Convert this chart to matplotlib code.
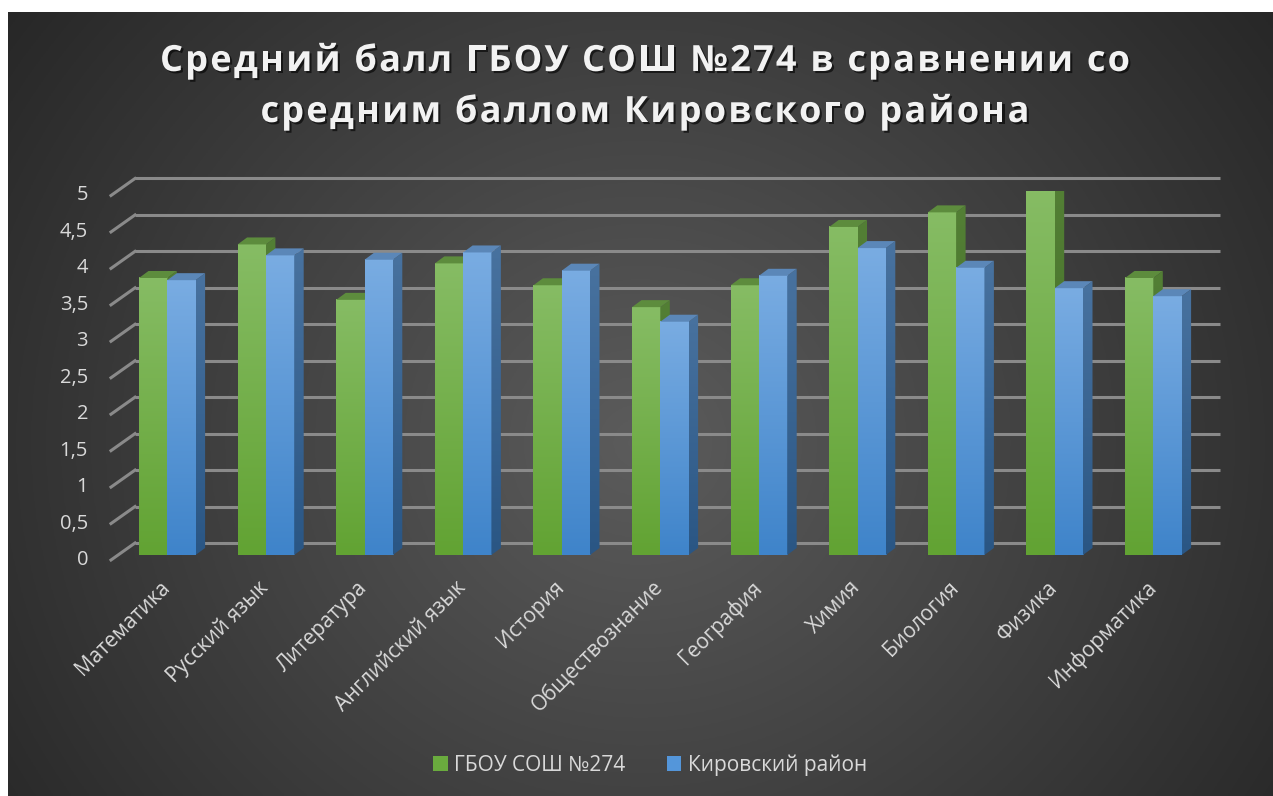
import numpy as np
import matplotlib
matplotlib.use("Agg")
import matplotlib.pyplot as plt
from matplotlib.patches import Polygon, Patch
from matplotlib import patheffects

plt.rcParams['font.family'] = ['Open Sans', 'DejaVu Sans']

# data
subjects = ["Математика", "Русский язык", "Литература", "Английский язык",
            "История", "Обществознание", "География", "Химия", "Биология",
            "Физика", "Информатика"]
school = [3.8, 4.26, 3.5, 4.0, 3.7, 3.4, 3.7, 4.5, 4.7, 5.0, 3.8]
district = [3.77, 4.11, 4.05, 4.15, 3.9, 3.2, 3.83, 4.21, 3.94, 3.66, 3.55]
y_ticks = [0, 0.5, 1, 1.5, 2, 2.5, 3, 3.5, 4, 4.5, 5]
y_tick_labels = ["0", "0,5", "1", "1,5", "2", "2,5", "3", "3,5", "4", "4,5", "5"]
series_names = ["ГБОУ СОШ №274", "Кировский район"]
title_lines = ["Средний балл ГБОУ СОШ №274 в сравнении со",
               "средним баллом Кировского района"]

W, H = 1273, 796
fig = plt.figure(figsize=(W / 100, H / 100), dpi=100)
fig.patch.set_facecolor("white")

# dark radial background
bg = fig.add_axes([8 / W, 0, 1 - 8 / W, 1 - 12 / H])
yy, xx = np.mgrid[0:1:300j, 0:1:500j]
r = np.sqrt(((xx - 0.5) * 1.5) ** 2 + (yy - 0.55) ** 2)
shade = 0.36 - 0.21 * np.clip(r / 0.95, 0, 1)
bg.imshow(np.dstack([shade] * 3), extent=[0, 1, 0, 1], aspect="auto")
bg.axis("off")

# plot area (bar plane)
ax_w, ax_h = 1084.6, 364.5
ax = fig.add_axes([118 / W, (H - 555) / H, ax_w / W, ax_h / H])
ax.set_xlim(-0.5, 10.5)
ax.set_ylim(0, 5)
ax.axis("off")
px_x = 11 / ax_w
px_y = 5 / ax_h

grid_col = "#8a8a8a"
for v in y_ticks:
    # back wall line + floor diagonal
    ax.plot([-0.5 + 17 * px_x, 10.5 + 17 * px_x], [v + 12 * px_y] * 2,
            color=grid_col, lw=2.2, clip_on=False, zorder=1, solid_capstyle="butt")
    ax.plot([-0.5 - 7 * px_x, -0.5 + 17 * px_x], [v - 5 * px_y, v + 12 * px_y],
            color=grid_col, lw=2.2, clip_on=False, zorder=1)

for v, lab in zip(y_ticks, y_tick_labels):
    ax.text(-0.5 - 30 * px_x, v - 5 * px_y, lab, ha="right", va="center",
            fontsize=14.5, color="#d9d9d9", clip_on=False)

bar_w = 28.3 * px_x
dx, dy = 9.5 * px_x, 7 * px_y

styles = [
    {"front": ("#62a333", "#86bc64"), "side": ("#416b25", "#537f35"), "top": "#5d8c3d"},
    {"front": ("#3f84ca", "#79ace2"), "side": ("#2a5684", "#48729f"), "top": "#5b87b8"},
]


def grad(c_bot, c_top):
    a = np.array(matplotlib.colors.to_rgb(c_bot))
    b = np.array(matplotlib.colors.to_rgb(c_top))
    t = np.linspace(0, 1, 64)[:, None]
    return (a + (b - a) * t)[:, None, :]


def draw_bar(x0, v, st, z):
    x1 = x0 + bar_w
    ax.imshow(grad(*st["front"]), extent=[x0, x1, 0, v], origin="lower",
              aspect="auto", zorder=z, interpolation="bilinear")
    side = Polygon([(x1, 0), (x1 + dx, dy), (x1 + dx, v + dy), (x1, v)],
                   closed=True, facecolor="none", edgecolor="none", zorder=z)
    ax.add_patch(side)
    im = ax.imshow(grad(*st["side"]), extent=[x1, x1 + dx, 0, v + dy], origin="lower",
                   aspect="auto", zorder=z, interpolation="bilinear")
    im.set_clip_path(side)
    top = Polygon([(x0, v), (x1, v), (x1 + dx, v + dy), (x0 + dx, v + dy)],
                  closed=True, facecolor=st["top"], edgecolor="none", zorder=z)
    ax.add_patch(top)


for i in range(len(subjects)):
    draw_bar(i - bar_w, school[i], styles[0], 2)
    draw_bar(i, district[i], styles[1], 3)
    ax.text(i - 8 * px_x, -22 * px_y, subjects[i], rotation=45, rotation_mode="anchor",
            ha="right", va="top", fontsize=15, color="#d9d9d9", clip_on=False)

ax.set_xlim(-0.5, 10.5)
ax.set_ylim(0, 5)

# title with letter spacing
renderer = fig.canvas.get_renderer()
tprop = matplotlib.font_manager.FontProperties(family=["Open Sans", "DejaVu Sans"],
                                               weight="bold", size=26)


def w_of(s):
    w1 = renderer.get_text_width_height_descent(s + "|", tprop, ismath=False)[0]
    w0 = renderer.get_text_width_height_descent("|", tprop, ismath=False)[0]
    return w1 - w0


shadow = [patheffects.SimplePatchShadow(offset=(1.5, -1.5), shadow_rgbFace="black", alpha=0.6),
          patheffects.Normal()]
spacing = 2.2
for line, yc in zip(title_lines, [62, 113]):
    total = w_of(line) + spacing * (len(line) - 1)
    x0 = 645 - total / 2
    for k, ch in enumerate(line):
        if ch == " ":
            continue
        xk = x0 + w_of(line[:k]) + spacing * k
        fig.text(xk / W, 1 - yc / H, ch, fontproperties=tprop, color="#f2f2f2",
                 ha="left", va="center", path_effects=shadow)

handles = [Patch(facecolor="#6aab3e"), Patch(facecolor="#5496da")]
fig.legend(handles, series_names, loc="center", bbox_to_anchor=(650 / W, 1 - 765 / H),
           ncol=2, frameon=False, handlelength=0.7, handleheight=0.7,
           handletextpad=0.3, columnspacing=2.0, fontsize=15, labelcolor="#d9d9d9")

fig.savefig("out.png", dpi=100, facecolor=fig.get_facecolor())
